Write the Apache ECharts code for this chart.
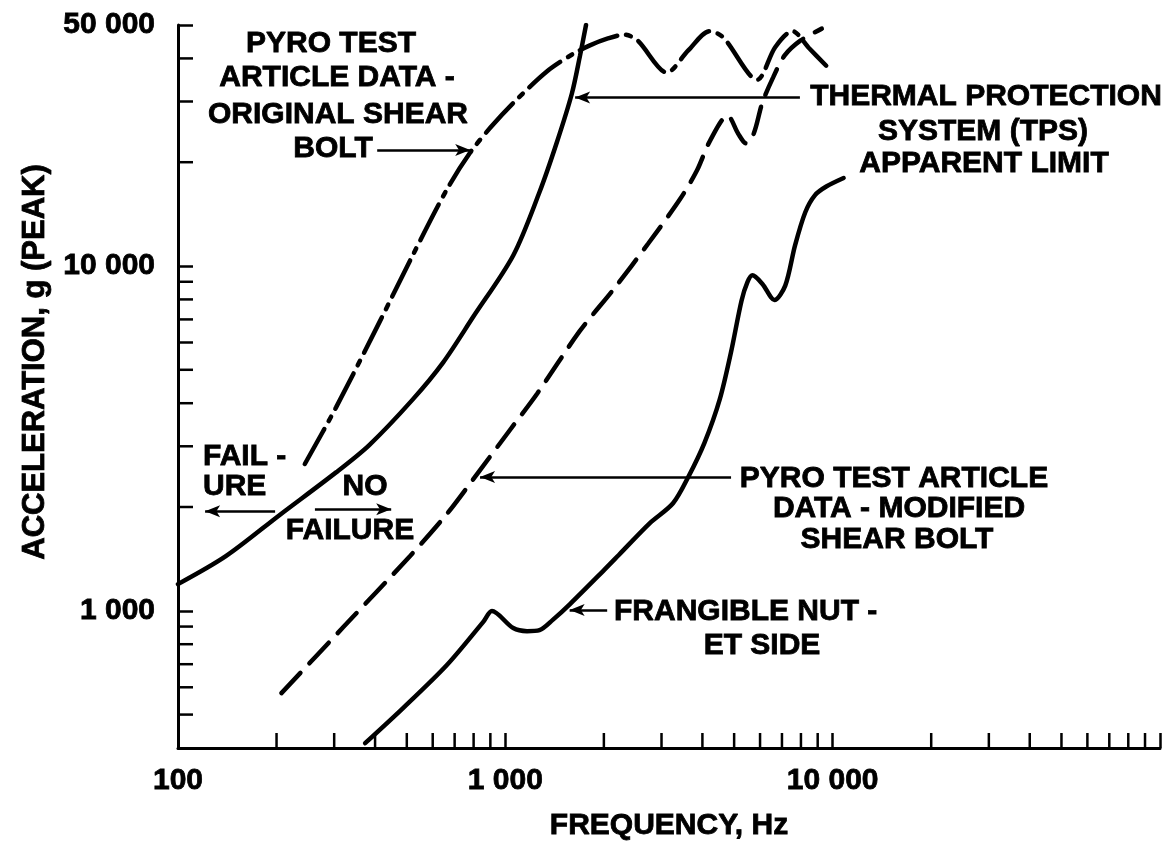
<!DOCTYPE html>
<html>
<head>
<meta charset="utf-8">
<script src="https://cdn.jsdelivr.net/npm/echarts@6/dist/echarts.min.js"></script>
<style>
  html, body { margin: 0; padding: 0; background: #fff; }
  #chart { width: 1169px; height: 843px; }
</style>
</head>
<body>
<div id="chart"></div>
<script>
// ---------- data ----------
// Thermal Protection System (TPS) apparent limit — solid line
const freqTPS = [100, 140, 205, 304, 384, 520, 646, 797, 1057, 1272, 1437, 1597, 1691, 1764];
const accTPS  = [1195, 1440, 1900, 2520, 3025, 4090, 5255, 7110, 10730, 16390, 22850, 31640, 40750, 50000];

// Pyro test article data - original shear bolt — dash-dot line
const freqOrig = [244, 304, 414, 523, 663, 781, 899, 1057, 1339, 1609, 1813, 2047, 2310, 2534, 3117, 3621, 4210, 4634, 5884, 6673, 7533, 8476, 9556];
const accOrig  = [2665, 3890, 6920, 10810, 16680, 21330, 25160, 29690, 36650, 41200, 43640, 45630, 46870, 45100, 36400, 42200, 48000, 46000, 34700, 43100, 48000, 42800, 38100];

// Pyro test article data - modified shear bolt — dashed line
const freqMod = [207, 320, 511, 663, 837, 1033, 1252, 1687, 2150, 2736, 3423, 3852, 4215, 4777, 5145, 5429, 5737, 6093, 6584, 7134, 7985, 9264];
const accMod  = [577, 897, 1440, 1910, 2560, 3345, 4270, 6470, 8600, 11640, 15660, 18950, 23030, 27300, 24200, 22700, 24200, 29700, 35300, 40800, 45100, 48800];

// Frangible nut - ET side — solid line
const freqNut = [373, 487, 663, 855, 910, 1057, 1165, 1272, 1396, 1576, 1989, 2222, 2764, 3253, 3621, 4058, 4521, 4891, 5265, 5491, 5690, 6101, 6640, 7164, 7675, 8248, 8833, 9560, 10800];
const accNut  = [413, 522, 696, 927, 998, 891, 873, 879, 941, 1046, 1304, 1452, 1796, 2051, 2444, 3070, 4110, 5620, 7920, 8980, 9400, 8870, 7970, 8770, 11480, 14320, 16050, 17000, 18000];

// axis ranges and tick values
const X_MIN = 100, X_MAX = 100000;
const Y_MIN = 400, Y_MAX = 50000;
const xLabelValues = [100, 1000, 10000];
const yLabelValues = [1000, 10000, 50000];
const xMinorTicks = [200, 300, 400, 500, 600, 700, 800, 900,
                     2000, 3000, 4000, 5000, 6000, 7000, 8000, 9000,
                     20000, 30000, 40000, 50000, 60000, 70000, 80000, 90000];
const yMinorTicks = [500, 600, 700, 800, 900,
                     2000, 3000, 4000, 5000, 6000, 7000, 8000, 9000,
                     20000, 30000, 40000];

// annotation arrows: [fromFreq, toFreq, acceleration]
const arrowBolt     = [406, 781, 21700];
const arrowTPS      = [7942, 1634, 30800];
const arrowFail     = [198, 121, 1945];
const arrowNoFail   = [262, 448, 1970];
const arrowModified = [4893, 837, 2444];
const arrowNut      = [2047, 1572, 1005];

// ---------- chart ----------
const FONT = "'Liberation Sans', Arial, Helvetica, sans-serif";
const INK = '#000';

function fmtNum(v) {
  const n = Math.round(v);
  return String(n).replace(/\B(?=(\d{3})+(?!\d))/g, ' ');
}
function near(v, list) {
  return list.some(t => Math.abs(v - t) / t < 1e-6);
}
function zip(a, b) { return a.map((v, i) => [v, b[i]]); }
function arrowLine(a) {
  return [{ coord: [a[0], a[2]] }, { coord: [a[1], a[2]] }];
}

const chart = echarts.init(document.getElementById('chart'), null, { renderer: 'canvas' });

function label(text, x, y, align, size) {
  return {
    type: 'text', x: x, y: y, silent: true,
    style: { text: text, fill: INK, font: 'bold ' + (size || 30) + 'px ' + FONT,
      stroke: INK, lineWidth: 0.8,
      textAlign: align || 'center', textVerticalAlign: 'middle',
      align: align || 'center', verticalAlign: 'middle' }
  };
}

const curveCommon = { showSymbol: false, smooth: 0.3, silent: true };
const axisLabelCommon = {
  interval: 0, showMinLabel: true, showMaxLabel: true,
  color: INK, fontFamily: FONT, fontWeight: 'bold', fontSize: 30,
  textBorderColor: INK, textBorderWidth: 0.8
};

const option = {
  animation: false,
  backgroundColor: '#fff',
  grid: { left: 178, right: 9, top: 25, bottom: 95, containLabel: false },
  xAxis: {
    type: 'log', logBase: 10, min: X_MIN, max: X_MAX,
    axisLine: { onZero: false, lineStyle: { color: INK, width: 3 } },
    axisTick: { inside: true, length: 15, lineStyle: { color: INK, width: 2.5 } },
    axisLabel: Object.assign({ margin: 18,
      formatter: v => near(v, xLabelValues) ? fmtNum(v) : '' }, axisLabelCommon),
    splitLine: { show: false }
  },
  yAxis: {
    type: 'log', logBase: 10, min: Y_MIN, max: Y_MAX,
    axisLine: { onZero: false, lineStyle: { color: INK, width: 3 } },
    axisTick: { inside: true, length: 15, lineStyle: { color: INK, width: 2.5 } },
    axisLabel: Object.assign({ margin: 23,
      formatter: v => near(v, yLabelValues) ? fmtNum(v) : '' }, axisLabelCommon),
    splitLine: { show: false }
  },
  series: [
    Object.assign({
      name: 'TPS apparent limit', type: 'line', data: zip(freqTPS, accTPS),
      lineStyle: { color: INK, width: 4.5, type: 'solid', cap: 'round' }
    }, curveCommon),
    Object.assign({
      name: 'Original shear bolt', type: 'line', data: zip(freqOrig, accOrig),
      lineStyle: { color: INK, width: 4.5, type: [40, 9, 5, 9], cap: 'round' }
    }, curveCommon),
    Object.assign({
      name: 'Modified shear bolt', type: 'line', data: zip(freqMod, accMod),
      lineStyle: { color: INK, width: 4.5, type: [28, 13], cap: 'round' }
    }, curveCommon),
    Object.assign({
      name: 'Frangible nut - ET side', type: 'line', data: zip(freqNut, accNut),
      lineStyle: { color: INK, width: 4.5, type: 'solid', cap: 'round' }
    }, curveCommon),
    {
      name: 'minor x ticks', type: 'custom', silent: true, clip: false,
      data: xMinorTicks.map(v => [v, Y_MIN]),
      renderItem: (params, api) => {
        const p = api.coord([api.value(0), api.value(1)]);
        return { type: 'line', shape: { x1: p[0], y1: p[1], x2: p[0], y2: p[1] - 15 },
          style: { stroke: INK, lineWidth: 2.5 } };
      }
    },
    {
      name: 'minor y ticks', type: 'custom', silent: true, clip: false,
      data: yMinorTicks.map(v => [X_MIN, v]),
      renderItem: (params, api) => {
        const p = api.coord([api.value(0), api.value(1)]);
        return { type: 'line', shape: { x1: p[0], y1: p[1], x2: p[0] + 15, y2: p[1] },
          style: { stroke: INK, lineWidth: 2.5 } };
      }
    },
    {
      name: 'annotations', type: 'line', data: [], silent: true,
      markLine: {
        silent: true, animation: false,
        symbol: ['none', 'arrow'], symbolSize: [9, 15],
        label: { show: false },
        lineStyle: { color: INK, width: 2.5, type: 'solid' },
        emphasis: { disabled: true },
        data: [arrowLine(arrowBolt), arrowLine(arrowTPS), arrowLine(arrowFail),
               arrowLine(arrowNoFail), arrowLine(arrowModified), arrowLine(arrowNut)]
      }
    }
  ],
  graphic: [
    label('PYRO TEST', 331, 44),
    label('ARTICLE DATA -', 337, 78),
    label('ORIGINAL SHEAR', 338, 115),
    label('BOLT', 333, 149),
    label('THERMAL PROTECTION', 986, 97),
    label('SYSTEM (TPS)', 983, 132),
    label('APPARENT LIMIT', 984, 164),
    label('FAIL -', 203, 457, 'left'),
    label('URE', 203, 487, 'left'),
    label('NO', 365, 487),
    label('FAILURE', 350, 531),
    label('PYRO TEST ARTICLE', 894, 479),
    label('DATA - MODIFIED', 899, 509),
    label('SHEAR BOLT', 897, 540),
    label('FRANGIBLE NUT -', 614, 612, 'left'),
    label('ET SIDE', 762, 646),
    label('FREQUENCY, Hz', 669, 826),
    {
      type: 'text', x: 35, y: 362, rotation: Math.PI / 2, silent: true,
      style: { text: 'ACCELERATION, g (PEAK)', fill: INK, font: 'bold 31px ' + FONT,
        stroke: INK, lineWidth: 0.8,
        textAlign: 'center', textVerticalAlign: 'middle', align: 'center', verticalAlign: 'middle' }
    }
  ]
};

chart.setOption(option);
</script>
</body>
</html>
